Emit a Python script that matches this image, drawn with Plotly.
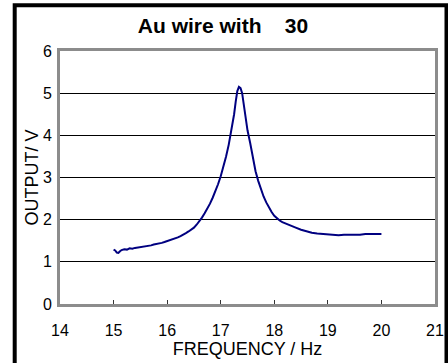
import plotly.graph_objects as go

# Resonance sweep of the Au wire: drive frequency (Hz) vs. output amplitude (V)
freq_hz = [
    15.00, 15.03, 15.06, 15.09, 15.12, 15.15, 15.20, 15.25, 15.30, 15.35,
    15.40, 15.45, 15.50, 15.55, 15.60, 15.65, 15.70, 15.75, 15.80, 15.85,
    15.90, 15.95, 16.00, 16.05, 16.10, 16.15, 16.20, 16.25, 16.30, 16.35,
    16.40, 16.45, 16.50, 16.55, 16.60, 16.65, 16.70, 16.75, 16.80, 16.85,
    16.90, 16.95, 17.00, 17.05, 17.10, 17.15, 17.20, 17.25, 17.28, 17.31,
    17.34, 17.37, 17.40, 17.43, 17.46, 17.50, 17.55, 17.60, 17.65, 17.70,
    17.75, 17.80, 17.85, 17.90, 17.95, 18.00, 18.05, 18.10, 18.15, 18.20,
    18.30, 18.40, 18.50, 18.60, 18.70, 18.80, 18.90, 19.00, 19.10, 19.20,
    19.30, 19.40, 19.50, 19.60, 19.70, 19.80, 19.90, 20.00,
]
output_v = [
    1.29, 1.27, 1.22, 1.21, 1.25, 1.28, 1.30, 1.29, 1.32, 1.31,
    1.33, 1.34, 1.35, 1.35, 1.37, 1.38, 1.39, 1.41, 1.42, 1.43,
    1.45, 1.47, 1.49, 1.51, 1.53, 1.55, 1.58, 1.61, 1.64, 1.68,
    1.72, 1.76, 1.81, 1.88, 1.96, 2.05, 2.15, 2.26, 2.38, 2.52,
    2.67, 2.84, 3.03, 3.25, 3.50, 3.78, 4.10, 4.50, 4.80, 5.05,
    5.15, 5.12, 5.00, 4.72, 4.45, 4.12, 3.82, 3.45, 3.15, 2.92,
    2.72, 2.55, 2.41, 2.29, 2.18, 2.09, 2.03, 1.98, 1.94, 1.91,
    1.86, 1.81, 1.76, 1.72, 1.69, 1.67, 1.66, 1.65, 1.64, 1.63,
    1.64, 1.64, 1.65, 1.64, 1.66, 1.66, 1.67, 1.66,
]

x_ticks = [14, 15, 16, 17, 18, 19, 20, 21]
y_ticks = [0, 1, 2, 3, 4, 5, 6]

title_text = "<b>Au wire with\u00a0\u00a0\u00a0 30</b>"
x_title = "FREQUENCY / Hz"
y_title = "OUTPUT/ V"

FONT = "Liberation Sans, Arial, sans-serif"
W, H = 448, 363
ML, MR, MT, MB = 60, 13, 51, 59
PW, PH = W - ML - MR, H - MT - MB


def px_to_paper_x(px):
    return (px - ML) / PW


def px_to_paper_y(py):
    return (H - MB - py) / PH


fig = go.Figure()
fig.add_trace(go.Scatter(
    x=freq_hz, y=output_v, mode="lines",
    line=dict(color="#000080", width=2),
    showlegend=False, hoverinfo="skip",
))

fig.update_layout(
    width=W, height=H,
    margin=dict(l=ML, r=MR, t=MT, b=MB, pad=0, autoexpand=False),
    paper_bgcolor="white", plot_bgcolor="white",
    font=dict(family=FONT, color="black", size=16),
    title=dict(text=title_text, x=223 / W, xanchor="center",
               y=1 - 26 / H, yanchor="middle", automargin=False,
               font=dict(family=FONT, size=21, color="black")),
    xaxis=dict(
        range=[14, 21], tickvals=x_ticks, ticks="inside", ticklen=4,
        tickcolor="#333333", tickwidth=1, automargin=False,
        showgrid=False, zeroline=False,
        showline=True, linecolor="#8c8c8c", linewidth=3, mirror=True,
        tickfont=dict(size=16), ticklabelstandoff=10,
        title=dict(text=x_title, font=dict(size=18), standoff=2),
    ),
    yaxis=dict(
        range=[0, 6], tickvals=y_ticks, ticks="", automargin=False,
        showgrid=True, gridcolor="black", gridwidth=1, zeroline=False,
        showline=True, linecolor="#8c8c8c", linewidth=3, mirror=True,
        tickfont=dict(size=16), ticklabelstandoff=2,
        title=dict(text=y_title, font=dict(size=18), standoff=0),
    ),
    shapes=[dict(
        type="rect", xref="paper", yref="paper", layer="above",
        x0=px_to_paper_x(14.7), x1=px_to_paper_x(446.5),
        y0=px_to_paper_y(380), y1=px_to_paper_y(5.3),
        line=dict(color="black", width=4), fillcolor="rgba(0,0,0,0)",
    )],
)

fig.write_html("out.html")
